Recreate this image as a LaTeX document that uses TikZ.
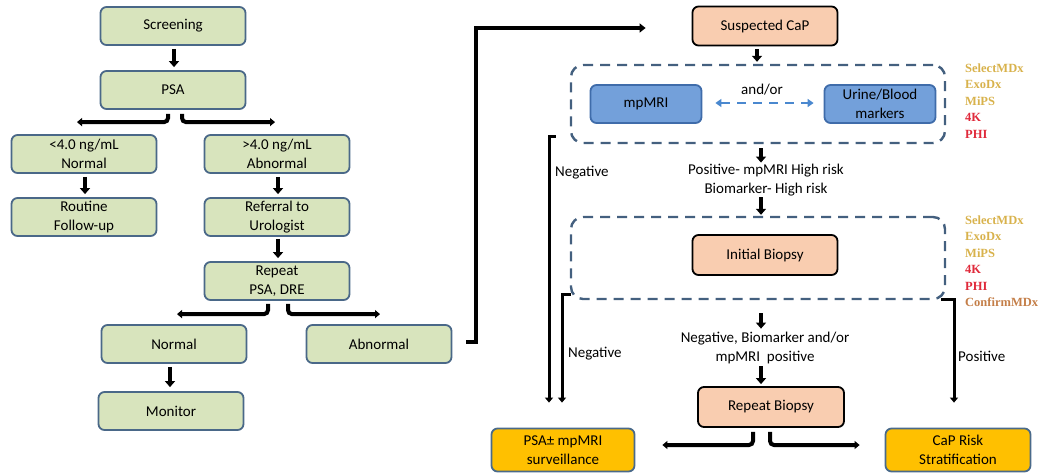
\documentclass[tikz,border=0pt]{standalone}
\usepackage{fontspec}
\setmainfont{Carlito}
\newfontfamily\listfont{Liberation Serif}
\usetikzlibrary{arrows.meta,calc}
\definecolor{gfill}{HTML}{D8E4BD}
\definecolor{gborder}{HTML}{4A6888}
\definecolor{ofill}{HTML}{F9CDB0}
\definecolor{bfill}{HTML}{73A0DA}
\definecolor{bborder}{HTML}{3F6CAA}
\definecolor{yfill}{HTML}{FFC000}
\definecolor{yborder}{HTML}{4A6A8A}
\definecolor{dframe}{HTML}{44607F}
\definecolor{darr}{HTML}{4A88CF}
\definecolor{tgold}{HTML}{D8B24C}
\definecolor{tred}{HTML}{E02A3B}
\definecolor{tbrown}{HTML}{C47E48}
\begin{document}
\begin{tikzpicture}[x=1pt,y=-1pt,
  boxbase/.style={line width=1.8pt, rounded corners=6pt, align=center, inner sep=2pt, font=\fontsize{15}{18.5}\selectfont},
  gbox/.style={boxbase, draw=gborder, fill=gfill, minimum width=145pt, minimum height=38pt},
  obox/.style={boxbase, draw=black, fill=ofill, minimum width=145pt, minimum height=39pt},
  bbox/.style={boxbase, draw=bborder, fill=bfill, minimum width=111pt, minimum height=38pt},
  ybox/.style={boxbase, draw=yborder, fill=yfill, minimum width=143pt, minimum height=43pt},
  dframebox/.style={draw=dframe, line width=2.4pt, dash pattern=on 10pt off 7pt, rounded corners=12pt, minimum width=374pt, inner sep=0pt},
  lbl/.style={font=\fontsize{15}{19.5}\selectfont, align=center, inner sep=0pt},
  arr/.style={line width=3.4pt, -{Triangle[length=6pt,width=10pt]}},
  brarr/.style={line width=4pt, rounded corners=4pt, -{Triangle[length=5pt,width=8pt]}},
  thinarr/.style={line width=3pt, -{Triangle[length=5pt,width=8pt]}},
  dblarr/.style={draw=darr, line width=2.4pt, dash pattern=on 9pt off 7pt, {Triangle[length=6pt,width=8pt]}-{Triangle[length=6pt,width=8pt]}},
  testitem/.style={font=\listfont\bfseries\fontsize{12.5}{15}\selectfont, anchor=west, inner sep=0pt},
]
\useasboundingbox (0,0) rectangle (1040,474);

% left column
\node[gbox] (scr) at (173,26) {Screening};
\node[gbox] (psa) at (173,90) {PSA};
\node[gbox] (lt) at (84,154) {<4.0 ng/mL\\Normal};
\node[gbox] (gt) at (277,154) {>4.0 ng/mL\\Abnormal};
\node[gbox] (rout) at (84,217) {Routine\\Follow-up};
\node[gbox] (ref) at (277,217) {Referral to\\Urologist};
\node[gbox] (rep) at (277,281) {Repeat\\PSA, DRE};
\node[gbox] (nor) at (174,344) {Normal};
\node[gbox] (abn) at (379,344) {Abnormal};
\node[gbox] (mon) at (171,411) {Monitor};

\draw[arr] ($(scr.south)+(1,3)$) -- ($(psa.north)+(1,-3)$);
\draw[arr] ($(lt.south)+(1,3)$) -- ($(rout.north)+(1,-3)$);
\draw[arr] ($(gt.south)+(1,3)$) -- ($(ref.north)+(1,-3)$);
\draw[arr] ($(ref.south)+(1,2)$) -- ($(rep.north)+(1,-3)$);
\draw[arr] ($(nor.south)+(-4,3)$) -- ($(mon.north)+(-1,-4)$);

\draw[brarr] ($(psa.south)+(-5,4)$) |- ($(lt.north)+(-7,-12)$);
\draw[brarr] ($(psa.south)+(9,4)$) |- ($(gt.north)+(-2,-12)$);
\draw[brarr] ($(rep.south)+(-9,3)$) |- ($(nor.north)+(3,-10)$);
\draw[brarr] ($(rep.south)+(11,3)$) |- ($(abn.north)+(1,-10)$);

% right part
\node[dframebox, minimum height=78pt] (f1) at (758,104) {};
\node[dframebox, minimum height=82pt] (f2) at (758,258) {};

\node[obox] (sus) at (765,26) {Suspected CaP};
\node[bbox] (mp) at (646,104) {mpMRI};
\node[bbox] (ub) at (880,104) {Urine/Blood\\markers};
\node[lbl] (andor) at (762,90) {and/or};
\draw[dblarr] ($(mp.east)+(13,-1)$) -- ($(ub.west)+(-10,-1)$);

\node[lbl] (txt1) at (766,180) {Positive- mpMRI High risk\\Biomarker- High risk};
\node[obox, minimum height=40pt] (ib) at (765,255) {Initial Biopsy};
\node[lbl] (txt2) at (765,348) {Negative, Biomarker and/or\\mpMRI\ \ positive};
\node[obox, minimum height=40pt, minimum width=146pt] (rb) at (771,407) {Repeat Biopsy};
\node[ybox] (ps) at (563,450) {PSA± mpMRI\\surveillance};
\node[ybox, minimum width=145pt] (cr) at (958,450) {CaP Risk\\Stratification};

\draw[arr] ($(sus.south)+(-8,3)$) -- ($(f1.north)+(-1,-2)$);
\draw[arr] ($(f1.south)+(3,4)$) -- ($(txt1.north)+(-5,-1)$);
\draw[arr] ($(txt1.south)+(-5,1)$) -- ($(f2.north)+(3,-1)$);
\draw[arr] ($(f2.south)+(3,13)$) -- ($(txt2.north)+(-4,-3)$);
\draw[arr] ($(txt2.south)+(-4,2)$) -- ($(rb.north)+(-10,-2)$);

\draw[brarr] ($(rb.south)+(-18,4)$) |- ($(ps.east)+(27,-5)$);
\draw[brarr] ($(rb.south)+(-1,4)$) |- ($(cr.west)+(-25,-5)$);

% abnormal connector
\coordinate (abtip) at ($(sus.west)+(-46,2)$);
\draw[line width=4pt, -{Triangle[length=6pt,width=9pt]}] ($(abn.east)+(14,-2)$) -- ++(10,0) |- (abtip);

% negative / positive
\coordinate (n1tip) at ($(ps.north)+(-14,-25)$);
\coordinate (n2tip) at ($(ps.north)+(-1,-25)$);
\coordinate (ptip) at ($(cr.north)+(-4,-25)$);
\draw[thinarr] ($(f1.south west)+(-14,-8)$) -| (n1tip);
\draw[thinarr] ($(f2.south west)+(1,-6)$) -| (n2tip);
\draw[thinarr] ($(f2.south east)+(-5,-1)$) -| (ptip);
\node[lbl, anchor=west] (neg1) at (555,173) {Negative};
\node[lbl, anchor=west] (neg2) at (568,354) {Negative};
\node[lbl, anchor=west] (pos) at (958,356) {Positive};

% test lists
\node[testitem, text=tgold] (a1) at (965,68) {SelectMDx};
\node[testitem, text=tgold] (a2) at (965,84.5) {ExoDx};
\node[testitem, text=tgold] (a3) at (965,101) {MiPS};
\node[testitem, text=tred] (a4) at (965,117.5) {4K};
\node[testitem, text=tred] (a5) at (965,134) {PHI};
\node[testitem, text=tgold] (b1) at (965,220) {SelectMDx};
\node[testitem, text=tgold] (b2) at (965,236.5) {ExoDx};
\node[testitem, text=tgold] (b3) at (965,253) {MiPS};
\node[testitem, text=tred] (b4) at (965,269.5) {4K};
\node[testitem, text=tred] (b5) at (965,286) {PHI};
\node[testitem, text=tbrown] (b6) at (965,302.5) {ConfirmMDx};
\end{tikzpicture}
\end{document}
